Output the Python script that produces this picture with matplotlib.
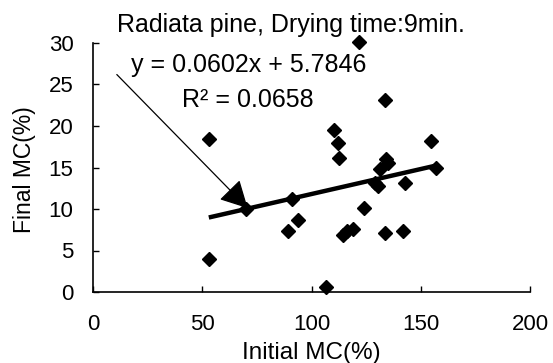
import matplotlib
matplotlib.use("Agg")
import matplotlib.pyplot as plt
import numpy as np

plt.rcParams['font.family'] = ['Liberation Sans', 'DejaVu Sans']

initial_mc = [53.0, 53.0, 70.0, 91.0, 93.7, 89.4, 106.7, 110.4, 112.1, 112.7,
              114.2, 116.2, 119.0, 121.6, 123.9, 129.2, 130.3, 131.5, 133.8,
              134.3, 134.9, 133.5, 142.6, 141.8, 154.8, 156.8]
final_mc = [18.4, 4.0, 10.0, 11.2, 8.7, 7.4, 0.6, 19.5, 17.9, 16.1,
            6.9, 7.3, 7.6, 30.1, 10.1, 13.1, 12.8, 14.8, 23.1,
            16.0, 15.6, 7.1, 13.1, 7.4, 18.2, 15.0]
slope, intercept = 0.0602, 5.7846
x_ticks = [0, 50, 100, 150, 200]
y_ticks = [0, 5, 10, 15, 20, 25, 30]

W, H = 553, 363
fig = plt.figure(figsize=(W / 100, H / 100), dpi=100)
ax = fig.add_axes([93 / W, 1 - 292 / H, (530 - 93) / W, (292 - 43) / H])

ax.plot(initial_mc, final_mc, linestyle='none', marker='D', ms=7.5,
        color='black', clip_on=False, zorder=3)
xf = np.array([min(initial_mc), max(initial_mc)])
ax.plot(xf, slope * xf + intercept, color='black', lw=3.2, zorder=2,
        solid_capstyle='butt')

ax.set_xlim(0, 200)
ax.set_ylim(0, 30)
ax.set_xticks(x_ticks)
ax.set_yticks(y_ticks)
ax.tick_params(direction='in', length=4, width=1, labelsize=16)
ax.tick_params(axis='x', pad=16)
ax.tick_params(axis='y', pad=14)
for s in ['top', 'right']:
    ax.spines[s].set_visible(False)
for s in ['left', 'bottom']:
    ax.spines[s].set_linewidth(1.2)

ax.set_xlabel('Initial MC(%)', fontsize=17.5)
ax.xaxis.set_label_coords(0.5, (292 - 359) / 249)
ax.xaxis.label.set_va('baseline')
ax.set_ylabel('Final MC(%)', fontsize=16.5)
ax.yaxis.set_label_coords((24 - 93) / 437, (292 - 170) / 249)
ax.yaxis.label.set_va('center')

fig.text(291 / W, 1 - 32 / H, 'Radiata pine, Drying time:9min.',
         ha='center', va='baseline', fontsize=18)
ax.text(71.2, 26.5, 'y = 0.0602x + 5.7846', ha='center', va='baseline', fontsize=18)
ax.text(70.7, 22.3, 'R\u00b2 = 0.0658', ha='center', va='baseline', fontsize=18)

ax.annotate('', xy=(70.8, 10.1), xytext=(10.9, 26.2),
            arrowprops=dict(arrowstyle='-|>,head_length=1.7,head_width=0.9',
                            mutation_scale=10, color='black', lw=0.9,
                            shrinkA=0, shrinkB=0))

fig.savefig('out.png', dpi=100)
